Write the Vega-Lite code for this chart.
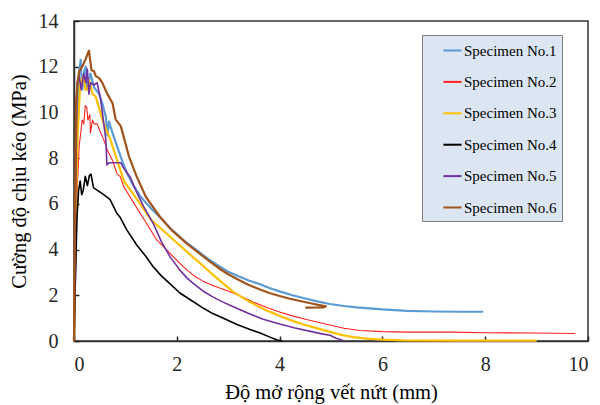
{
  "$schema": "https://vega.github.io/schema/vega-lite/v6.json",
  "width": 514,
  "height": 320,
  "autosize": "none",
  "padding": {"left": 74, "top": 21, "right": 12, "bottom": 64},
  "background": "white",
  "config": {
    "font": "Liberation Serif",
    "view": {"stroke": "#333333", "strokeWidth": 1.5},
    "legend": {"labelFont": "Liberation Serif"},
    "axis": {
      "grid": false,
      "labelFont": "Liberation Serif",
      "titleFont": "Liberation Serif",
      "labelFontSize": 20,
      "titleFontSize": 20.5,
      "titleFontWeight": "normal",
      "labelColor": "#262626",
      "titleColor": "#000000",
      "domainColor": "#333333",
      "domainWidth": 1.5,
      "tickColor": "#262626",
      "tickWidth": 1.5,
      "tickSize": -5
    }
  },
  "data": {
    "values": [
      {"s": "Specimen No.1", "x": 0, "y": 0},
      {"s": "Specimen No.1", "x": 0.03, "y": 4},
      {"s": "Specimen No.1", "x": 0.06, "y": 9},
      {"s": "Specimen No.1", "x": 0.09, "y": 11.5},
      {"s": "Specimen No.1", "x": 0.13, "y": 12.3},
      {"s": "Specimen No.1", "x": 0.16, "y": 11.0},
      {"s": "Specimen No.1", "x": 0.2, "y": 11.8},
      {"s": "Specimen No.1", "x": 0.23, "y": 12.0},
      {"s": "Specimen No.1", "x": 0.26, "y": 11.0},
      {"s": "Specimen No.1", "x": 0.32, "y": 11.7},
      {"s": "Specimen No.1", "x": 0.39, "y": 11.1},
      {"s": "Specimen No.1", "x": 0.49, "y": 10.8},
      {"s": "Specimen No.1", "x": 0.55, "y": 10.4},
      {"s": "Specimen No.1", "x": 0.62, "y": 9.8},
      {"s": "Specimen No.1", "x": 0.65, "y": 9.0},
      {"s": "Specimen No.1", "x": 0.68, "y": 9.6},
      {"s": "Specimen No.1", "x": 0.75, "y": 9.1},
      {"s": "Specimen No.1", "x": 0.84, "y": 8.5},
      {"s": "Specimen No.1", "x": 0.95, "y": 7.8},
      {"s": "Specimen No.1", "x": 1.04, "y": 7.3},
      {"s": "Specimen No.1", "x": 1.17, "y": 6.75},
      {"s": "Specimen No.1", "x": 1.3, "y": 6.3},
      {"s": "Specimen No.1", "x": 1.5, "y": 5.8},
      {"s": "Specimen No.1", "x": 1.67, "y": 5.42},
      {"s": "Specimen No.1", "x": 1.9, "y": 4.87},
      {"s": "Specimen No.1", "x": 2.19, "y": 4.3},
      {"s": "Specimen No.1", "x": 2.4, "y": 3.95},
      {"s": "Specimen No.1", "x": 2.6, "y": 3.6},
      {"s": "Specimen No.1", "x": 2.84, "y": 3.25},
      {"s": "Specimen No.1", "x": 3.0, "y": 3.03},
      {"s": "Specimen No.1", "x": 3.2, "y": 2.83},
      {"s": "Specimen No.1", "x": 3.4, "y": 2.65},
      {"s": "Specimen No.1", "x": 3.62, "y": 2.48},
      {"s": "Specimen No.1", "x": 3.8, "y": 2.32},
      {"s": "Specimen No.1", "x": 4.0, "y": 2.17},
      {"s": "Specimen No.1", "x": 4.25, "y": 2.0},
      {"s": "Specimen No.1", "x": 4.5, "y": 1.86},
      {"s": "Specimen No.1", "x": 4.75, "y": 1.72},
      {"s": "Specimen No.1", "x": 4.98, "y": 1.62},
      {"s": "Specimen No.1", "x": 5.25, "y": 1.53},
      {"s": "Specimen No.1", "x": 5.5, "y": 1.47},
      {"s": "Specimen No.1", "x": 6.0, "y": 1.38},
      {"s": "Specimen No.1", "x": 6.48, "y": 1.32},
      {"s": "Specimen No.1", "x": 7.0, "y": 1.29},
      {"s": "Specimen No.1", "x": 7.5, "y": 1.28},
      {"s": "Specimen No.1", "x": 7.96, "y": 1.28},

      {"s": "Specimen No.2", "x": 0, "y": 0},
      {"s": "Specimen No.2", "x": 0.03, "y": 3},
      {"s": "Specimen No.2", "x": 0.06, "y": 6.5},
      {"s": "Specimen No.2", "x": 0.1, "y": 8.5},
      {"s": "Specimen No.2", "x": 0.13, "y": 9.1},
      {"s": "Specimen No.2", "x": 0.16, "y": 9.67},
      {"s": "Specimen No.2", "x": 0.19, "y": 9.5},
      {"s": "Specimen No.2", "x": 0.22, "y": 10.3},
      {"s": "Specimen No.2", "x": 0.25, "y": 10.2},
      {"s": "Specimen No.2", "x": 0.27, "y": 9.67},
      {"s": "Specimen No.2", "x": 0.31, "y": 9.9},
      {"s": "Specimen No.2", "x": 0.32, "y": 9.1},
      {"s": "Specimen No.2", "x": 0.36, "y": 9.67},
      {"s": "Specimen No.2", "x": 0.39, "y": 9.5},
      {"s": "Specimen No.2", "x": 0.45, "y": 9.5},
      {"s": "Specimen No.2", "x": 0.52, "y": 9.1},
      {"s": "Specimen No.2", "x": 0.58, "y": 8.8},
      {"s": "Specimen No.2", "x": 0.65, "y": 8.35},
      {"s": "Specimen No.2", "x": 0.75, "y": 7.9},
      {"s": "Specimen No.2", "x": 0.84, "y": 7.3},
      {"s": "Specimen No.2", "x": 0.9, "y": 7.19},
      {"s": "Specimen No.2", "x": 0.97, "y": 6.75},
      {"s": "Specimen No.2", "x": 1.2, "y": 5.9},
      {"s": "Specimen No.2", "x": 1.41, "y": 5.15},
      {"s": "Specimen No.2", "x": 1.6, "y": 4.45},
      {"s": "Specimen No.2", "x": 1.87, "y": 3.83},
      {"s": "Specimen No.2", "x": 2.06, "y": 3.4},
      {"s": "Specimen No.2", "x": 2.2, "y": 3.1},
      {"s": "Specimen No.2", "x": 2.32, "y": 2.88},
      {"s": "Specimen No.2", "x": 2.5, "y": 2.63},
      {"s": "Specimen No.2", "x": 2.7, "y": 2.43},
      {"s": "Specimen No.2", "x": 2.9, "y": 2.26},
      {"s": "Specimen No.2", "x": 3.1, "y": 2.1},
      {"s": "Specimen No.2", "x": 3.3, "y": 1.9},
      {"s": "Specimen No.2", "x": 3.49, "y": 1.7},
      {"s": "Specimen No.2", "x": 3.75, "y": 1.47},
      {"s": "Specimen No.2", "x": 4.0, "y": 1.27},
      {"s": "Specimen No.2", "x": 4.25, "y": 1.1},
      {"s": "Specimen No.2", "x": 4.5, "y": 0.95},
      {"s": "Specimen No.2", "x": 4.75, "y": 0.82},
      {"s": "Specimen No.2", "x": 4.98, "y": 0.7},
      {"s": "Specimen No.2", "x": 5.25, "y": 0.56},
      {"s": "Specimen No.2", "x": 5.56, "y": 0.46},
      {"s": "Specimen No.2", "x": 6.0, "y": 0.41},
      {"s": "Specimen No.2", "x": 6.5, "y": 0.39},
      {"s": "Specimen No.2", "x": 7.37, "y": 0.39},
      {"s": "Specimen No.2", "x": 8.0, "y": 0.36},
      {"s": "Specimen No.2", "x": 9.0, "y": 0.35},
      {"s": "Specimen No.2", "x": 9.75, "y": 0.33},

      {"s": "Specimen No.3", "x": 0, "y": 0},
      {"s": "Specimen No.3", "x": 0.03, "y": 5},
      {"s": "Specimen No.3", "x": 0.07, "y": 9},
      {"s": "Specimen No.3", "x": 0.1, "y": 10.3},
      {"s": "Specimen No.3", "x": 0.12, "y": 11.3},
      {"s": "Specimen No.3", "x": 0.19, "y": 11.6},
      {"s": "Specimen No.3", "x": 0.22, "y": 11.0},
      {"s": "Specimen No.3", "x": 0.26, "y": 11.0},
      {"s": "Specimen No.3", "x": 0.3, "y": 11.4},
      {"s": "Specimen No.3", "x": 0.36, "y": 10.8},
      {"s": "Specimen No.3", "x": 0.42, "y": 10.7},
      {"s": "Specimen No.3", "x": 0.52, "y": 9.95},
      {"s": "Specimen No.3", "x": 0.58, "y": 9.5},
      {"s": "Specimen No.3", "x": 0.71, "y": 8.8},
      {"s": "Specimen No.3", "x": 0.84, "y": 7.9},
      {"s": "Specimen No.3", "x": 0.97, "y": 7.0},
      {"s": "Specimen No.3", "x": 1.1, "y": 6.6},
      {"s": "Specimen No.3", "x": 1.28, "y": 6.02},
      {"s": "Specimen No.3", "x": 1.5, "y": 5.3},
      {"s": "Specimen No.3", "x": 1.7, "y": 4.9},
      {"s": "Specimen No.3", "x": 1.87, "y": 4.56},
      {"s": "Specimen No.3", "x": 2.05, "y": 4.2},
      {"s": "Specimen No.3", "x": 2.2, "y": 3.9},
      {"s": "Specimen No.3", "x": 2.36, "y": 3.58},
      {"s": "Specimen No.3", "x": 2.52, "y": 3.27},
      {"s": "Specimen No.3", "x": 2.7, "y": 2.9},
      {"s": "Specimen No.3", "x": 2.9, "y": 2.52},
      {"s": "Specimen No.3", "x": 3.1, "y": 2.15},
      {"s": "Specimen No.3", "x": 3.36, "y": 1.79},
      {"s": "Specimen No.3", "x": 3.55, "y": 1.55},
      {"s": "Specimen No.3", "x": 3.75, "y": 1.33},
      {"s": "Specimen No.3", "x": 4.0, "y": 1.1},
      {"s": "Specimen No.3", "x": 4.25, "y": 0.88},
      {"s": "Specimen No.3", "x": 4.5, "y": 0.7},
      {"s": "Specimen No.3", "x": 4.75, "y": 0.54},
      {"s": "Specimen No.3", "x": 4.98, "y": 0.4},
      {"s": "Specimen No.3", "x": 5.2, "y": 0.27},
      {"s": "Specimen No.3", "x": 5.43, "y": 0.17},
      {"s": "Specimen No.3", "x": 5.7, "y": 0.1},
      {"s": "Specimen No.3", "x": 6.0, "y": 0.06},
      {"s": "Specimen No.3", "x": 6.4, "y": 0.03},
      {"s": "Specimen No.3", "x": 7.5, "y": 0.02},
      {"s": "Specimen No.3", "x": 9.0, "y": 0.02},

      {"s": "Specimen No.4", "x": 0, "y": 0},
      {"s": "Specimen No.4", "x": 0.03, "y": 3},
      {"s": "Specimen No.4", "x": 0.06, "y": 5.5},
      {"s": "Specimen No.4", "x": 0.09, "y": 6.6},
      {"s": "Specimen No.4", "x": 0.12, "y": 7.0},
      {"s": "Specimen No.4", "x": 0.15, "y": 6.4},
      {"s": "Specimen No.4", "x": 0.18, "y": 6.6},
      {"s": "Specimen No.4", "x": 0.22, "y": 7.2},
      {"s": "Specimen No.4", "x": 0.26, "y": 6.8},
      {"s": "Specimen No.4", "x": 0.3, "y": 7.25},
      {"s": "Specimen No.4", "x": 0.33, "y": 7.3},
      {"s": "Specimen No.4", "x": 0.38, "y": 6.7},
      {"s": "Specimen No.4", "x": 0.45, "y": 6.6},
      {"s": "Specimen No.4", "x": 0.55, "y": 6.45},
      {"s": "Specimen No.4", "x": 0.7, "y": 6.2},
      {"s": "Specimen No.4", "x": 0.83, "y": 5.6},
      {"s": "Specimen No.4", "x": 0.9, "y": 5.4},
      {"s": "Specimen No.4", "x": 1.03, "y": 4.85},
      {"s": "Specimen No.4", "x": 1.22, "y": 4.2},
      {"s": "Specimen No.4", "x": 1.4, "y": 3.7},
      {"s": "Specimen No.4", "x": 1.54, "y": 3.25},
      {"s": "Specimen No.4", "x": 1.7, "y": 2.85},
      {"s": "Specimen No.4", "x": 1.87, "y": 2.5},
      {"s": "Specimen No.4", "x": 2.06, "y": 2.1},
      {"s": "Specimen No.4", "x": 2.3, "y": 1.75},
      {"s": "Specimen No.4", "x": 2.52, "y": 1.43},
      {"s": "Specimen No.4", "x": 2.7, "y": 1.2},
      {"s": "Specimen No.4", "x": 2.95, "y": 0.95},
      {"s": "Specimen No.4", "x": 3.17, "y": 0.72},
      {"s": "Specimen No.4", "x": 3.4, "y": 0.52},
      {"s": "Specimen No.4", "x": 3.62, "y": 0.35},
      {"s": "Specimen No.4", "x": 3.8, "y": 0.18},
      {"s": "Specimen No.4", "x": 3.95, "y": 0.04},
      {"s": "Specimen No.4", "x": 4.05, "y": 0.0},

      {"s": "Specimen No.5", "x": 0, "y": 0},
      {"s": "Specimen No.5", "x": 0.03, "y": 6},
      {"s": "Specimen No.5", "x": 0.06, "y": 11.3},
      {"s": "Specimen No.5", "x": 0.1, "y": 11.6},
      {"s": "Specimen No.5", "x": 0.14, "y": 11.0},
      {"s": "Specimen No.5", "x": 0.19, "y": 11.7},
      {"s": "Specimen No.5", "x": 0.23, "y": 11.3},
      {"s": "Specimen No.5", "x": 0.26, "y": 11.9},
      {"s": "Specimen No.5", "x": 0.29, "y": 10.8},
      {"s": "Specimen No.5", "x": 0.32, "y": 11.3},
      {"s": "Specimen No.5", "x": 0.39, "y": 11.2},
      {"s": "Specimen No.5", "x": 0.45, "y": 11.3},
      {"s": "Specimen No.5", "x": 0.52, "y": 10.55},
      {"s": "Specimen No.5", "x": 0.58, "y": 9.5},
      {"s": "Specimen No.5", "x": 0.62, "y": 8.8},
      {"s": "Specimen No.5", "x": 0.64, "y": 7.7},
      {"s": "Specimen No.5", "x": 0.68, "y": 7.8},
      {"s": "Specimen No.5", "x": 0.78, "y": 7.8},
      {"s": "Specimen No.5", "x": 0.91, "y": 7.8},
      {"s": "Specimen No.5", "x": 0.97, "y": 7.55},
      {"s": "Specimen No.5", "x": 1.09, "y": 7.19},
      {"s": "Specimen No.5", "x": 1.2, "y": 6.6},
      {"s": "Specimen No.5", "x": 1.35, "y": 5.9},
      {"s": "Specimen No.5", "x": 1.54, "y": 5.15},
      {"s": "Specimen No.5", "x": 1.7, "y": 4.35},
      {"s": "Specimen No.5", "x": 1.87, "y": 3.68},
      {"s": "Specimen No.5", "x": 2.06, "y": 3.1},
      {"s": "Specimen No.5", "x": 2.2, "y": 2.75},
      {"s": "Specimen No.5", "x": 2.32, "y": 2.52},
      {"s": "Specimen No.5", "x": 2.5, "y": 2.2},
      {"s": "Specimen No.5", "x": 2.7, "y": 1.93},
      {"s": "Specimen No.5", "x": 2.9, "y": 1.7},
      {"s": "Specimen No.5", "x": 3.1, "y": 1.5},
      {"s": "Specimen No.5", "x": 3.4, "y": 1.2},
      {"s": "Specimen No.5", "x": 3.68, "y": 0.95},
      {"s": "Specimen No.5", "x": 4.0, "y": 0.74},
      {"s": "Specimen No.5", "x": 4.3, "y": 0.57},
      {"s": "Specimen No.5", "x": 4.6, "y": 0.42},
      {"s": "Specimen No.5", "x": 4.85, "y": 0.3},
      {"s": "Specimen No.5", "x": 4.98, "y": 0.25},
      {"s": "Specimen No.5", "x": 5.1, "y": 0.12},
      {"s": "Specimen No.5", "x": 5.24, "y": 0.02},

      {"s": "Specimen No.6", "x": 0, "y": 0},
      {"s": "Specimen No.6", "x": 0.02, "y": 6},
      {"s": "Specimen No.6", "x": 0.04, "y": 10.5},
      {"s": "Specimen No.6", "x": 0.07, "y": 11.3},
      {"s": "Specimen No.6", "x": 0.1, "y": 11.8},
      {"s": "Specimen No.6", "x": 0.16, "y": 12.0},
      {"s": "Specimen No.6", "x": 0.22, "y": 12.3},
      {"s": "Specimen No.6", "x": 0.29, "y": 12.7},
      {"s": "Specimen No.6", "x": 0.34, "y": 11.85},
      {"s": "Specimen No.6", "x": 0.39, "y": 11.8},
      {"s": "Specimen No.6", "x": 0.42, "y": 11.6},
      {"s": "Specimen No.6", "x": 0.49, "y": 11.5},
      {"s": "Specimen No.6", "x": 0.55, "y": 11.3},
      {"s": "Specimen No.6", "x": 0.65, "y": 10.8},
      {"s": "Specimen No.6", "x": 0.75, "y": 10.4},
      {"s": "Specimen No.6", "x": 0.81, "y": 9.7},
      {"s": "Specimen No.6", "x": 0.91, "y": 9.4},
      {"s": "Specimen No.6", "x": 1.07, "y": 8.07},
      {"s": "Specimen No.6", "x": 1.22, "y": 7.19},
      {"s": "Specimen No.6", "x": 1.4, "y": 6.3},
      {"s": "Specimen No.6", "x": 1.67, "y": 5.44},
      {"s": "Specimen No.6", "x": 1.9, "y": 4.85},
      {"s": "Specimen No.6", "x": 2.19, "y": 4.27},
      {"s": "Specimen No.6", "x": 2.4, "y": 3.9},
      {"s": "Specimen No.6", "x": 2.6, "y": 3.55},
      {"s": "Specimen No.6", "x": 2.84, "y": 3.15},
      {"s": "Specimen No.6", "x": 3.0, "y": 2.92},
      {"s": "Specimen No.6", "x": 3.2, "y": 2.68},
      {"s": "Specimen No.6", "x": 3.4, "y": 2.45},
      {"s": "Specimen No.6", "x": 3.62, "y": 2.25},
      {"s": "Specimen No.6", "x": 3.8, "y": 2.1},
      {"s": "Specimen No.6", "x": 4.0, "y": 1.97},
      {"s": "Specimen No.6", "x": 4.2, "y": 1.85},
      {"s": "Specimen No.6", "x": 4.4, "y": 1.75},
      {"s": "Specimen No.6", "x": 4.6, "y": 1.65},
      {"s": "Specimen No.6", "x": 4.75, "y": 1.58},
      {"s": "Specimen No.6", "x": 4.9, "y": 1.52},
      {"s": "Specimen No.6", "x": 4.85, "y": 1.47},
      {"s": "Specimen No.6", "x": 4.5, "y": 1.46}
    ]
  },
  "mark": {"type": "line", "strokeJoin": "round", "strokeCap": "butt"},
  "encoding": {
    "x": {
      "field": "x",
      "type": "quantitative",
      "scale": {"domain": [0, 10], "nice": false},
      "axis": {
        "values": [0, 2, 4, 6, 8, 10],
        "title": "Độ mở rộng vết nứt (mm)",
        "labelPadding": 18,
        "titlePadding": 8
      }
    },
    "y": {
      "field": "y",
      "type": "quantitative",
      "scale": {"domain": [0, 14], "nice": false},
      "axis": {
        "values": [0, 2, 4, 6, 8, 10, 12, 14],
        "title": "Cường độ chịu kéo (MPa)",
        "labelPadding": 21,
        "titlePadding": 9
      }
    },
    "color": {
      "field": "s",
      "type": "nominal",
      "scale": {
        "domain": ["Specimen No.1", "Specimen No.2", "Specimen No.3", "Specimen No.4", "Specimen No.5", "Specimen No.6"],
        "range": ["#5b9bd5", "#ff2020", "#ffc000", "#000000", "#7030a0", "#a0541c"]
      },
      "legend": {
        "title": null,
        "orient": "none",
        "legendX": 348,
        "legendY": 14,
        "fillColor": "#dce6f2",
        "strokeColor": "#7f7f7f",
        "padding": 5,
        "symbolType": "stroke",
        "symbolSize": 330,
        "symbolStrokeWidth": 2,
        "symbolOffset": 15,
        "labelOffset": 1,
        "labelFont": "Liberation Serif",
        "labelFontSize": 15,
        "labelColor": "#000000",
        "rowPadding": 12.4
      }
    },
    "strokeWidth": {
      "condition": [
        {"test": "datum.s === 'Specimen No.2'", "value": 1.1},
        {"test": "datum.s === 'Specimen No.4' || datum.s === 'Specimen No.5'", "value": 1.6}
      ],
      "value": 2.2
    },
    "order": {"value": null}
  }
}
